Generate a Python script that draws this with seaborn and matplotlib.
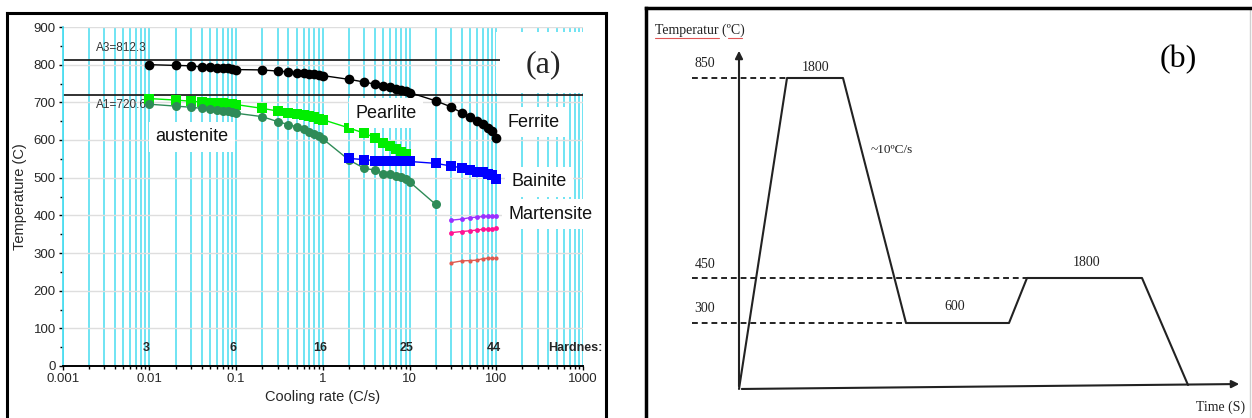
import numpy as np
import matplotlib
matplotlib.use('Agg')
import matplotlib.pyplot as plt
import seaborn as sns
from matplotlib.ticker import LogLocator, MultipleLocator, NullFormatter, FixedLocator

# ---- data panel (a): CCT diagram ----
A3 = 812.3
A1 = 720.6

rate_ferrite = [0.01, 0.02, 0.03, 0.04, 0.05, 0.06, 0.07, 0.08, 0.09, 0.1,
                0.2, 0.3, 0.4, 0.5, 0.6, 0.7, 0.8, 0.9, 1,
                2, 3, 4, 5, 6, 7, 8, 9, 10,
                20, 30, 40, 50, 60, 70, 80, 90, 100]
temp_ferrite = [800, 798, 797, 794, 793, 791, 790, 790, 789, 787,
                786, 783, 781, 779, 777, 776, 774, 773, 771,
                761, 754, 748, 743, 740, 736, 733, 730, 726,
                704, 688, 672, 662, 651, 642, 633, 624, 606]

rate_pearlite = [0.01, 0.02, 0.03, 0.04, 0.05, 0.06, 0.07, 0.08, 0.09, 0.1,
                 0.2, 0.3, 0.4, 0.5, 0.6, 0.7, 0.8, 0.9, 1,
                 2, 3, 4, 5, 6, 7, 8, 9]
temp_pearlite = [710, 706, 703, 701, 699, 698, 697, 696, 695, 694,
                 684, 677, 673, 669, 666, 663, 660, 657, 654,
                 632, 618, 606, 593, 583, 576, 568, 562]

rate_bainite = [2, 3, 4, 5, 6, 7, 8, 9, 10,
                20, 30, 40, 50, 60, 70, 80, 90, 100]
temp_bainite = [551, 548, 545, 544, 544, 544, 544, 543, 543,
                538, 531, 526, 520, 516, 514, 510, 506, 496]

rate_finish = [0.01, 0.02, 0.03, 0.04, 0.05, 0.06, 0.07, 0.08, 0.09, 0.1,
               0.2, 0.3, 0.4, 0.5, 0.6, 0.7, 0.8, 0.9, 1,
               2, 3, 4, 5, 6, 7, 8, 9, 10, 20]
temp_finish = [695, 690, 687, 684, 682, 680, 678, 676, 674, 671,
               662, 649, 641, 635, 629, 622, 616, 610, 603,
               547, 525, 520, 511, 509, 505, 501, 497, 489, 429]

rate_mart = [30, 40, 50, 60, 70, 80, 90, 100]
temp_ms = [387, 390, 394, 395, 397, 397, 397, 397]
temp_m50 = [354, 357, 359, 361, 363, 363, 363, 366]
temp_m90 = [274, 279, 280, 281, 285, 286, 286, 286]

hard_rates = [0.01, 0.1, 1, 10, 100]
hard_values = ['3', '6', '16', '25', '44']

phase_names = ['austenite', 'Pearlite', 'Ferrite', 'Bainite', 'Martensite']
phase_x = [0.031, 5.35, 268, 314, 425]
phase_y = [608, 671, 647, 489, 403]

# ---- data panel (b): heat treatment schematic (drawing units) ----
step_time = [0, 48, 104, 167, 270, 288, 403, 449]
step_level = [0, 311, 311, 66, 66, 111, 111, 4]
level_labels = ['850', '450', '300']
level_y = [311, 111, 66]
level_end = [48, 288, 167]
hold_labels = ['1800', '600', '1800']
hold_x = [77, 216, 348]
hold_y = [321, 82, 127]

sns.set_theme(style='white')
plt.rcParams['font.family'] = ['Liberation Sans', 'DejaVu Sans']

W, H = 1252, 418


def box(l, t, r, b):
    return [l / W, 1 - b / H, (r - l) / W, (b - t) / H]


fig = plt.figure(figsize=(W / 100, H / 100), dpi=100)
fig.patch.set_facecolor('white')

# frame of panel (a)
fa = fig.add_axes(box(7, 13, 606, 450))
fa.set_xticks([]); fa.set_yticks([])
for s in ['left', 'top', 'right']:
    fa.spines[s].set_color('black'); fa.spines[s].set_linewidth(2.2)
fa.spines['bottom'].set_visible(False)

ax = fig.add_axes(box(62.7, 27, 583, 366))
ax.set_xscale('log')
ax.set_xlim(0.001, 1000); ax.set_ylim(0, 900)
ax.xaxis.set_major_locator(FixedLocator([0.001, 0.01, 0.1, 1, 10, 100, 1000]))
ax.set_xticklabels(['0.001', '0.01', '0.1', '1', '10', '100', '1000'])
ax.xaxis.set_minor_locator(LogLocator(base=10, subs=np.arange(2, 10) * 1.0, numticks=20))
ax.xaxis.set_minor_formatter(NullFormatter())
ax.yaxis.set_major_locator(MultipleLocator(100))
ax.yaxis.set_minor_locator(MultipleLocator(50))
ax.set_axisbelow(True)
ax.grid(True, axis='x', which='both', color='#48dcf0', lw=1.1)
ax.grid(True, axis='y', which='major', color='#dedede', lw=1)
ax.tick_params(axis='both', which='both', left=True, bottom=True, direction='out',
               color='black', labelsize=9.5, pad=2)
ax.tick_params(axis='both', which='major', length=3, width=1)
ax.tick_params(axis='both', which='minor', length=2, width=1)
for s in ['top', 'right']:
    ax.spines[s].set_visible(False)
ax.spines['left'].set_color('#48dcf0')
ax.spines['bottom'].set_color('black'); ax.spines['bottom'].set_linewidth(1.4)
ax.axvspan(100, 1000, ymin=(A1 + 3) / 900, ymax=0.985, color='white', lw=0, zorder=0.8)

ax.hlines(A3, 0.001, 110, color='#222222', lw=1.3, zorder=1.5)
ax.axhline(A1, color='#222222', lw=1.3, zorder=1.5)
ax.text(0.0024, 844, 'A3=812.3', fontsize=8.5, color='#333333', va='center')
ax.text(0.0024, 693, 'A1=720.6', fontsize=8.5, color='#333333', va='center')

kw = dict(ax=ax, estimator=None, sort=False, lw=1, markeredgewidth=0, zorder=3)
sns.lineplot(x=rate_ferrite, y=temp_ferrite, color='black', marker='o', markersize=7, **kw)
sns.lineplot(x=rate_pearlite, y=temp_pearlite, color='#00ee00', marker='s', markersize=7, **kw)
sns.lineplot(x=rate_finish, y=temp_finish, color='#2e8b57', marker='o', markersize=6.5, **kw)
sns.lineplot(x=rate_bainite, y=temp_bainite, color='#0000ff', marker='s', markersize=7, **kw)
sns.lineplot(x=rate_mart, y=temp_ms, color='#9b30ff', marker='o', markersize=3.5, **kw)
sns.lineplot(x=rate_mart, y=temp_m50, color='#ff1493', marker='o', markersize=3.5, **kw)
sns.lineplot(x=rate_mart, y=temp_m90, color='#e05a50', marker='o', markersize=3, **kw)

for name, px_, py_ in zip(phase_names, phase_x, phase_y):
    ax.text(px_, py_, name, fontsize=13, ha='center', va='center', color='#111111', zorder=4,
            bbox=dict(boxstyle='square,pad=0.35', facecolor='white', edgecolor='none'))

for r, h in zip(hard_rates, hard_values):
    ax.text(r * 0.93, 49, h, fontsize=9, fontweight='bold', ha='center', va='center', zorder=4)
ax.text(400, 49, 'Hardnes:', fontsize=9, fontweight='bold', ha='left', va='center',
        zorder=4, clip_on=False)

ax.set_ylabel('Temperature (C)', fontsize=10.5, labelpad=5)
ax.set_xlabel('Cooling rate (C/s)', fontsize=10.5, labelpad=4)

fig.text(543 / W, 1 - 65 / H, '(a)', fontsize=23, family='Liberation Serif',
         ha='center', va='center')

# ---- panel (b) ----
bx = fig.add_axes(box(646, 8, 1250, 440))
bx.set_xlim(-93, 511); bx.set_ylim(-51, 381)
bx.set_xticks([]); bx.set_yticks([])
bx.spines['bottom'].set_visible(False)
bx.spines['left'].set_linewidth(2.5); bx.spines['left'].set_color('black')
bx.spines['top'].set_linewidth(2.5); bx.spines['top'].set_color('black')
bx.spines['right'].set_linewidth(1); bx.spines['right'].set_color('#d0d0d0')

ink = '#222222'
serif = 'Liberation Serif'
sns.lineplot(x=step_time, y=step_level, ax=bx, estimator=None, sort=False,
             color=ink, lw=1.5)
bx.annotate('', xy=(503, 5), xytext=(0, 0),
            arrowprops=dict(arrowstyle='-|>', color=ink, lw=1.5, mutation_scale=11))
bx.annotate('', xy=(0, 341), xytext=(0, 0),
            arrowprops=dict(arrowstyle='-|>', color=ink, lw=1.5, mutation_scale=11))

for lab, yv, xe in zip(level_labels, level_y, level_end):
    bx.plot([-47, xe], [yv, yv], color=ink, lw=1.4, ls=(0, (3, 2)))
    bx.text(-34, yv + 14, lab, fontsize=10, family=serif, ha='center', va='center', color=ink)

for lab, xv, yv in zip(hold_labels, hold_x, hold_y):
    bx.text(xv, yv, lab, fontsize=10, family=serif, ha='center', va='center', color=ink)

bx.text(132, 239, '~10ºC/s', fontsize=9.5, family=serif, ha='left', va='center', color=ink)
bx.text(482, -18, 'Time (S)', fontsize=10, family=serif, ha='center', va='center', color=ink)
bx.text(-84, 359, 'Temperatur (ºC)', fontsize=10, family=serif, ha='left', va='center', color=ink)
bx.plot([-84, -20], [351, 351], color='#e05555', lw=0.8)
bx.plot([-11, 3], [351, 351], color='#e05555', lw=0.8)
bx.text(439, 329, '(b)', fontsize=23, family=serif, ha='center', va='center', color='black')

fig.savefig('out.png', dpi=100, facecolor='white')
